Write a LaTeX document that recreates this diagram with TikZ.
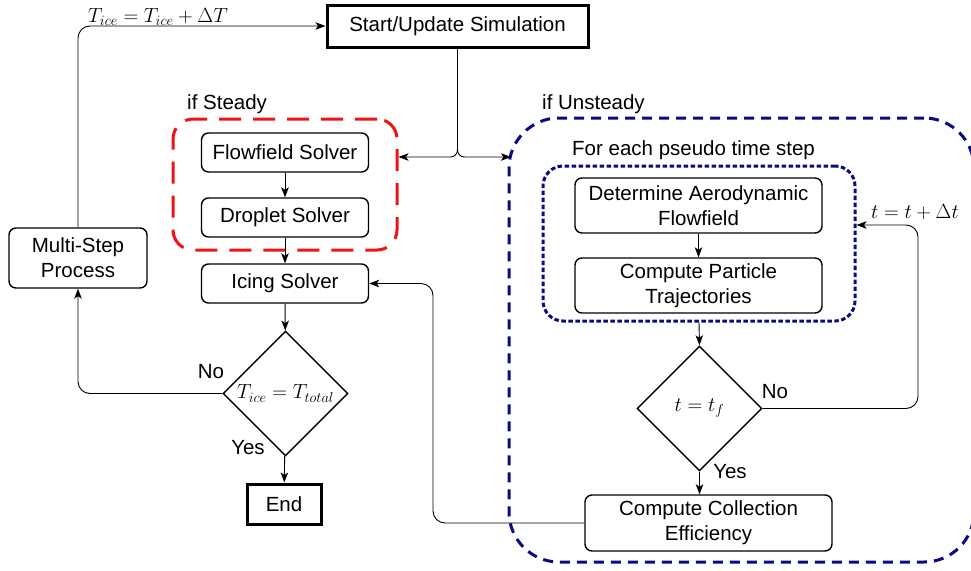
\RequirePackage{fix-cm}
\documentclass[tikz,border=0pt]{standalone}
\usepackage{fontspec}
\setmainfont{Liberation Sans}
\usetikzlibrary{shapes.geometric,arrows.meta}
\definecolor{navyc}{RGB}{10,10,130}
\definecolor{redc}{RGB}{238,20,20}
\begin{document}
\begin{tikzpicture}[x=1pt,y=-1pt, font=\fontsize{20.5}{25}\selectfont,
  box/.style={draw, line width=1.4pt, rounded corners=7pt, align=center, inner sep=0pt},
  thickbox/.style={draw, line width=3pt, inner sep=0pt, align=center},
  dia/.style={draw, diamond, line width=1.4pt, minimum width=125pt, minimum height=125pt, inner sep=0pt},
  arr/.style={-{Stealth[length=10pt,width=7.5pt,inset=2.5pt]}, line width=0.9pt},
  lbl/.style={inner sep=0pt},
  redbox/.style={draw=redc, line width=3pt, dash pattern=on 22pt off 12pt, rounded corners=20pt, inner sep=0pt},
  outerbox/.style={draw=navyc, line width=3pt, dash pattern=on 10pt off 7pt, rounded corners=50pt, inner sep=0pt},
  innerbox/.style={draw=navyc, line width=3pt, dash pattern=on 4.5pt off 2.5pt, rounded corners=20pt, inner sep=0pt},
]
\useasboundingbox (0,0) rectangle (971,570);

% containers
\node[redbox, minimum width=224pt, minimum height=131pt] (steady) at (285,184.5) {};
\node[outerbox, minimum width=465pt, minimum height=444pt] (unsteady) at (741.5,340) {};
\node[innerbox, minimum width=312pt, minimum height=155pt] (inner) at (699,243.5) {};

% nodes
\node[thickbox, minimum width=261pt, minimum height=42pt] (start) at (457.5,26) {Start/Update Simulation};
\node[box, minimum width=138pt, minimum height=60pt] (multi) at (78,258) {Multi-Step\\Process};
\node[box, minimum width=167pt, minimum height=39pt] (flow) at (285,152.5) {Flowfield Solver};
\node[box, minimum width=167pt, minimum height=39pt] (drop) at (285,217.5) {Droplet Solver};
\node[box, minimum width=167pt, minimum height=39pt] (icing) at (285,283.5) {Icing Solver};
\node[dia] (d1) at (285.5,393.5) {\makebox[0pt]{$T_{ice}=T_{total}$}};
\node[thickbox, minimum width=74pt, minimum height=40pt] (end) at (284,504) {End};

\node[box, minimum width=247pt, minimum height=55pt] (det) at (698.5,205.5) {Determine Aerodynamic\\Flowfield};
\node[box, minimum width=247pt, minimum height=55pt] (cpt) at (698.5,285.5) {Compute Particle\\Trajectories};
\node[dia] (d2) at (699.5,408.5) {\makebox[0pt]{$t=t_f$}};
\node[box, minimum width=247pt, minimum height=56pt] (cce) at (708.5,523) {Compute Collection\\Efficiency};

% labels
\node[lbl, anchor=west] (ifs) at (187,104) {if Steady};
\node[lbl, anchor=west] (ifu) at (542,104) {if Unsteady};
\node[lbl, anchor=west] (fe) at (572,150) {For each pseudo time step};
\node[lbl, anchor=base west] (tl) at (88,22) {$T_{ice}=T_{ice}+\Delta T$};
\node[lbl] (tt) at (915,212) {$t=t+\Delta t$};
\node[lbl] (no1) at (211,372) {No};
\node[lbl] (yes1) at (248,448) {Yes};
\node[lbl] (no2) at (775,392) {No};
\node[lbl] (yes2) at (730,472) {Yes};

% connectors
\draw[arr] (flow) -- (drop);
\draw[arr] (drop) -- (icing);
\draw[arr] (icing) -- (d1);
\draw[arr] (d1) -- (end);
\draw[arr] (det) -- (cpt);
\draw[arr] (inner.south) -- (d2.north);
\draw[arr] (d2.south) -- (d2.south |- cce.north);

\coordinate (junc) at (457.5,157);
\coordinate (ua) at (511,157);
\draw[arr, rounded corners=7pt] (start.south) |- (steady.east |- junc);
\draw[arr, rounded corners=7pt] (start.south) |- (ua);

\draw[arr, rounded corners=12pt] (multi.north) |- (start.west);
\draw[arr, rounded corners=12pt] (d1.west) -| (multi.south);

\coordinate (lp3) at (918,225);
\draw[arr, rounded corners=12pt] (d2.east) -| (lp3) -- (inner.east |- lp3);

\coordinate (lp4) at (433,283.5);
\draw[arr, rounded corners=12pt] (cce.west) -| (lp4) -- (icing.east);
\end{tikzpicture}
\end{document}
